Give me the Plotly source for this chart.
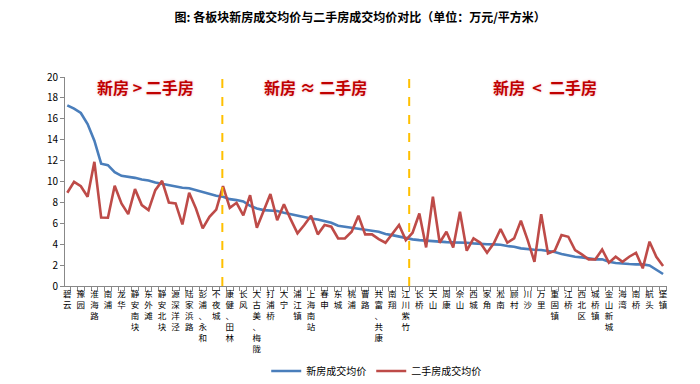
import plotly.graph_objects as go

# ---- data ----
labels = ["碧云", "豫园", "淮海路", "南浦", "龙华", "静安南块", "东外滩", "静安北块", "源深洋泾",
          "陆家浜路", "彭浦、永和", "不夜城", "康健、田林", "长风", "大古美、梅陇", "打浦桥", "大宁",
          "浦江镇", "上海南站", "春申", "东城", "桃浦", "曹路", "共富、共康", "南翔", "江川紫竹",
          "长桥", "天山", "周康", "佘山", "西城", "家角", "淞南", "顾村", "川沙", "万里", "重固镇",
          "江桥", "西北区", "城桥镇", "金山新城", "海湾", "南桥", "航头", "堡镇"]

new_price = [17.29, 16.97, 16.56, 15.5, 13.9, 11.7, 11.56, 10.9, 10.54, 10.48,
             10.35, 10.2, 10.1, 9.9, 9.78, 9.62, 9.55, 9.4, 9.36, 9.17,
             8.98, 8.76, 8.63, 8.54, 8.31, 8.22, 8.09, 7.68, 7.42, 7.26,
             7.2, 7.17, 7.0, 6.85, 6.72, 6.62, 6.46, 6.37, 6.2, 6.05,
             5.76, 5.67, 5.6, 5.51, 5.45, 5.29, 5.19, 4.97, 4.87, 4.71,
             4.55, 4.46, 4.39, 4.33, 4.27, 4.24, 4.2, 4.17, 4.17, 4.14,
             4.08, 4.02, 4.0, 3.98, 3.95, 3.82, 3.76, 3.6, 3.5, 3.47,
             3.44, 3.34, 3.25, 3.06, 2.9, 2.8, 2.74, 2.61, 2.55, 2.55,
             2.32, 2.2, 2.13, 2.1, 2.07, 2.07, 1.97, 1.53, 1.15]

second_price = [8.92, 9.97, 9.55, 8.54, 11.88, 6.56, 6.53, 9.59, 7.9, 6.88,
                9.27, 7.74, 7.26, 9.17, 10.06, 7.99, 7.9, 5.89, 8.92, 7.42,
                5.51, 6.62, 7.32, 9.55, 7.48, 7.96, 6.75, 8.69, 5.57, 7.1,
                8.8, 6.3, 7.83, 6.37, 5.03, 5.83, 6.72, 4.94, 5.83, 5.67,
                4.55, 4.55, 5.19, 6.72, 4.94, 4.94, 4.49, 4.14, 4.94, 5.83,
                4.39, 5.1, 6.94, 3.69, 8.54, 4.14, 5.19, 3.69, 7.1, 3.38,
                4.55, 4.14, 3.18, 4.08, 5.45, 4.14, 4.55, 6.24, 4.39, 2.32,
                6.88, 3.12, 3.38, 4.87, 4.71, 3.44, 3.03, 2.55, 2.55, 3.5,
                2.23, 2.8, 2.32, 2.8, 3.18, 1.69, 4.24, 2.8, 1.91]

y_ticks = [0, 2, 4, 6, 8, 10, 12, 14, 16, 18, 20]
group_texts = ["新房 > 二手房", "新房 ≈ 二手房", "新房  <  二手房"]
group_text_x = [11.5, 36.7, 70.5]
dividers = [22.9, 50.5]

# ---- figure ----
n = len(new_price)
xs = list(range(n))
fnt = "Noto Sans CJK SC"

fig = go.Figure()
fig.add_trace(go.Scatter(x=xs, y=new_price, mode="lines", name="新房成交均价",
                         line=dict(color="#4A7EBB", width=2.6)))
fig.add_trace(go.Scatter(x=xs, y=second_price, mode="lines", name="二手房成交均价",
                         line=dict(color="#BE4B48", width=2.6)))

for d in dividers:
    fig.add_shape(type="line", x0=d, x1=d, y0=0, y1=20, xref="x", yref="y",
                  line=dict(color="#FFC000", width=2, dash="dash"))

for t, gx in zip(group_texts, group_text_x):
    fig.add_annotation(x=gx, y=19.05, xref="x", yref="y", text="<b>" + t + "</b>",
                       showarrow=False,
                       font=dict(family=fnt, size=16, color="#C00000",
                                 shadow="0px 0px 3px #F2B8C0"))

tickvals = [2 * k for k in range(len(labels))]
ticktext = ["<br>".join(list(s)) for s in labels]

# page body has an 8px margin, so the figure is 8px smaller than the window
fig.update_layout(
    width=692, height=376,
    margin=dict(l=57, r=33, t=69, b=98, autoexpand=False),
    paper_bgcolor="white", plot_bgcolor="white",
    font=dict(family=fnt, size=10, color="#000"),
    title=dict(text="<b>图: 各板块新房成交均价与二手房成交均价对比（单位：万元/平方米）</b>",
               x=0.509, xanchor="center", y=0.973, yanchor="middle",
               font=dict(family=fnt, size=12, color="#000")),
    showlegend=True,
    legend=dict(orientation="h", x=0.517, xanchor="center", y=-0.407, yanchor="middle",
                font=dict(family=fnt, size=10, color="#000"),
                tracegroupgap=0, bgcolor="rgba(0,0,0,0)"),
    xaxis=dict(range=[-0.34, 88.58], tickmode="array", tickvals=tickvals, ticktext=ticktext,
               tickangle=0, tickfont=dict(family=fnt, size=8.5, color="#000"),
               showgrid=False, zeroline=False, showline=True, linecolor="#888", linewidth=1,
               ticks="", automargin=False,
               minor=dict(ticks="outside", tick0=0.5, dtick=1, ticklen=4,
                          tickcolor="#888", showgrid=False)),
    yaxis=dict(range=[0, 20], tickmode="array", tickvals=y_ticks,
               tickfont=dict(family=fnt, size=10, color="#000"),
               showgrid=False, zeroline=False, showline=True, linecolor="#888", linewidth=1,
               ticks="outside", ticklen=4, tickcolor="#888", automargin=False),
)

fig.write_html("out.html")
